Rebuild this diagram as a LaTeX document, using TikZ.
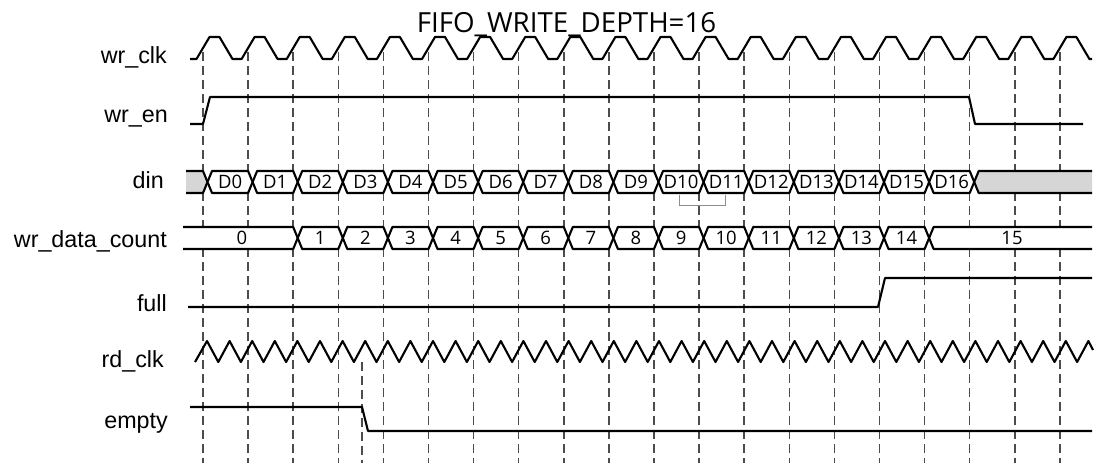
\documentclass[tikz,border=0pt]{standalone}
\usepackage{fontspec}
\newfontfamily\labfont{Liberation Sans}
\newfontfamily\datfont{Open Sans}
\begin{document}
\begin{tikzpicture}[x=1pt,y=-1pt,
  sig/.style={line width=2.1pt, line join=round},
  gridline/.style={line width=1.5pt, draw=black!70, dash pattern=on 9pt off 5pt},
  lab/.style={font=\labfont\fontsize{23.3}{27}\selectfont, anchor=base east, inner sep=0pt},
  dat/.style={font=\datfont\fontsize{18.5}{20}\selectfont, inner sep=0pt},
  busfill/.style={fill=black!16},
  brk/.style={draw=black!45, line width=1pt}
]
\useasboundingbox (0,0) rectangle (1094,464);

% dashed timing lines
\foreach \k in {0,...,19} \draw[gridline] ({203+45.1*\k},52) -- ({203+45.1*\k},463);
\draw[gridline] (362,362) -- (362,463);

% title
\node[font=\datfont\fontsize{27.7}{30}\selectfont, anchor=base, inner sep=0pt] (title) at (566.5,32) {FIFO\_WRITE\_DEPTH=16};

% labels
\node[lab] (lwrclk) at (167,63) {wr\_clk};
\node[lab] (lwren) at (168,122) {wr\_en};
\node[lab] (ldin) at (164,188) {din};
\node[lab] (lcount) at (167,247) {wr\_data\_count};
\node[lab] (lfull) at (167,311) {full};
\node[lab] (lrdclk) at (164,367) {rd\_clk};
\node[lab] (lempty) at (168,428) {empty};

% wr_clk
\draw[sig] (190,59) \foreach \k in {0,...,19} { -- ({196.5+45.1*\k},59) -- ({209.5+45.1*\k},37) -- ({219.5+45.1*\k},37) -- ({232.5+45.1*\k},59) } -- (1092,59);

% wr_en
\draw[sig] (190,124) -- (203,124) -- (210,97) -- (969,97) -- (975,124) -- (1083,124);

% din
\fill[busfill] (186,171) -- (203,171) -- (207.5,182) -- (203,193) -- (186,193) -- cycle;
\draw[sig] (186,171) -- (203,171) -- (207.5,182) -- (203,193) -- (186,193);
\foreach \k in {0,...,16} {
  \pgfmathsetmacro\a{207.5+45.1*\k}
  \pgfmathsetmacro\b{\a+45.1}
  \draw[sig, fill=white] (\a,182) -- ({\a+4.5},171) -- ({\b-4.5},171) -- (\b,182) -- ({\b-4.5},193) -- ({\a+4.5},193) -- cycle;
  \node[dat] (d\k) at ({(\a+\b)/2},182) {D\k};
}
\fill[busfill] (974.2,182) -- (978.7,171) -- (1092,171) -- (1092,193) -- (978.7,193) -- cycle;
\draw[sig] (1092,171) -- (978.7,171) -- (974.2,182) -- (978.7,193) -- (1092,193);
\draw[brk] (679,195) -- (679,205) -- (725,205) -- (725,195);

% wr_data_count
\draw[sig, fill=white] (183,227) -- (293.2,227) -- (297.7,238) -- (293.2,249) -- (183,249);
\node[dat] (c0) at (242,238) {0};
\foreach \k in {2,...,15} {
  \pgfmathsetmacro\a{207.5+45.1*\k}
  \pgfmathsetmacro\b{\a+45.1}
  \pgfmathtruncatemacro\n{\k-1}
  \draw[sig, fill=white] (\a,238) -- ({\a+4.5},227) -- ({\b-4.5},227) -- (\b,238) -- ({\b-4.5},249) -- ({\a+4.5},249) -- cycle;
  \node[dat] (c\n) at ({(\a+\b)/2},238) {\n};
}
\draw[sig, fill=white] (1092,227) -- (933.6,227) -- (929.1,238) -- (933.6,249) -- (1092,249);
\node[dat] (c15) at (1012,238) {15};

% full
\draw[sig] (188,307) -- (878,307) -- (885,278) -- (1092,278);

% rd_clk
\draw[sig] (195,362) \foreach \j in {0,...,38} { -- ({207+22.6*\j},341) -- ({218.3+22.6*\j},362) } -- (1088.4,341) -- (1093,350);

% empty
\draw[sig] (190,407) -- (362,407) -- (368,431) -- (1092,431);
\end{tikzpicture}
\end{document}
